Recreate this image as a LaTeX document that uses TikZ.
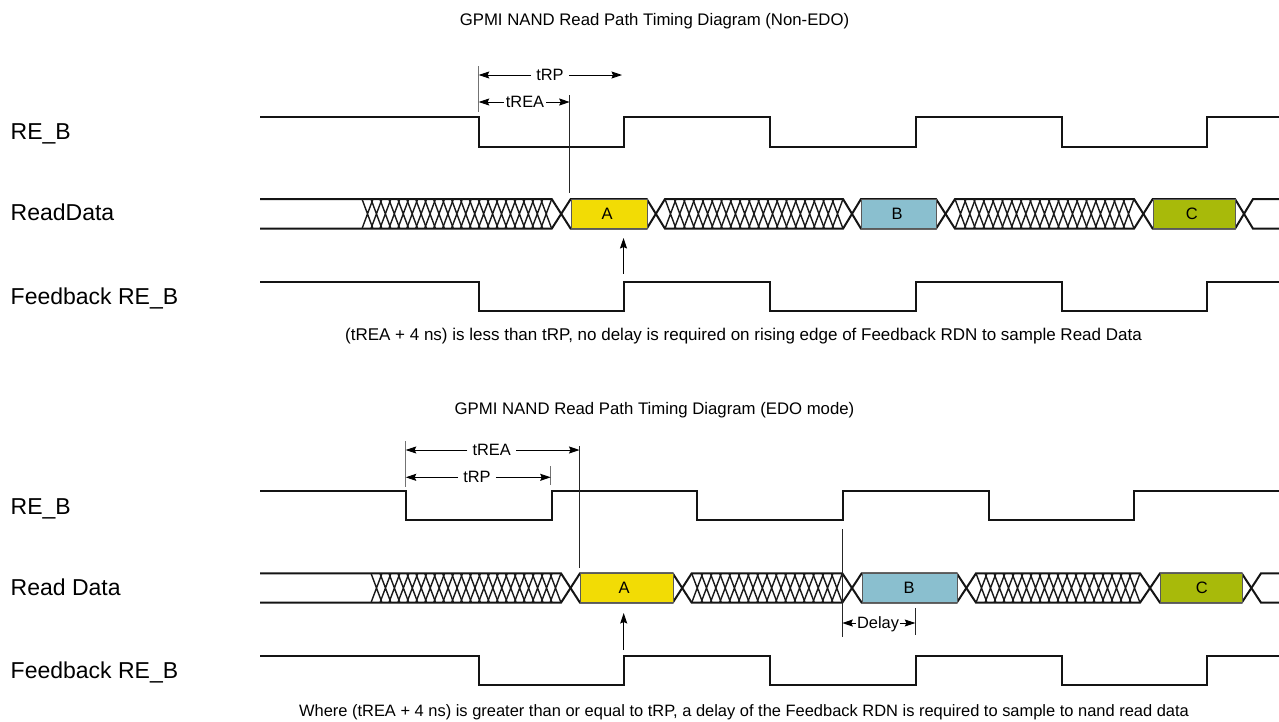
\documentclass[tikz,border=0pt]{standalone}
\usepackage{fontspec}
\setmainfont{Liberation Sans}
\usetikzlibrary{arrows.meta}
\definecolor{boxA}{HTML}{F2DC05}
\definecolor{boxB}{HTML}{8ABFCF}
\definecolor{boxC}{HTML}{A8BA0A}
\tikzset{
  wave/.style={line width=2pt,black!92,line join=miter},
  hatchln/.style={line width=1.4pt,black!90},
  dim/.style={line width=0.9pt,black,-{Stealth[length=10.5pt,width=7pt,inset=1.5pt]}},
  guide/.style={line width=1pt,black!85},
  tickg/.style={line width=1pt,black!55},
  siglabel/.style={anchor=base west,inner sep=0pt,font=\fontsize{23}{26}\selectfont},
  caption/.style={anchor=base,inner sep=0pt,font=\fontsize{16.75}{18}\selectfont},
  dimlabel/.style={anchor=base,inner sep=5pt,font=\fontsize{16.4}{18}\selectfont},
  databox/.style={draw=black!65,line width=1pt,minimum height=29.5pt,inner sep=0pt,anchor=west},
  boxtext/.style={anchor=base,inner sep=0pt,font=\fontsize{16.5}{18}\selectfont},
}
\newcommand{\hatchrun}[4]{% x0 x1 yhi ylo
  \pgfmathsetmacro{\hw}{11}
  \pgfmathsetmacro{\hn}{int(round((#2-#1-\hw)/9.15))}
  \pgfmathsetmacro{\hs}{(#2-#1-\hw)/\hn}
  \foreach \hi in {0,...,\hn}{
    \pgfmathsetmacro{\ha}{#1+\hi*\hs}
    \pgfmathsetmacro{\hb}{\ha+\hw}
    \draw[hatchln] (\ha,#3) -- (\hb,#4) (\hb,#3) -- (\ha,#4);
  }
}
\begin{document}
\begin{tikzpicture}[x=1pt,y=-1pt]
\useasboundingbox (0,0) rectangle (1279,721);
\begin{scope}
\clip (0,0) rectangle (1279,721);
% ---------- top diagram
\node[caption] (title1) at (654.5,25.6) {GPMI NAND Read Path Timing Diagram (Non-EDO)};
\node[siglabel] (l1) at (10.5,139) {RE\_B};
\node[siglabel] (l2) at (10.5,220.7) {ReadData};
\node[siglabel] (l3) at (10.5,304) {Feedback RE\_B};
\draw[wave] (260,116.5) -- (478.7,116.5) -- (478.7,146.5) -- (624,146.5) -- (624,116.5) -- (770,116.5) -- (770,146.5) -- (916,146.5) -- (916,116.5) -- (1062,116.5) -- (1062,146.5) -- (1207,146.5) -- (1207,116.5) -- (1279,116.5);
\draw[wave] (260,199) -- (551.7,199) -- (570.7,228.7) -- (646.7,228.7) -- (665,199) -- (843,199) -- (861,228.7) -- (936,228.7) -- (955,199) -- (1134,199) -- (1152.7,228.7) -- (1235,228.7) -- (1253,199) -- (1279,199);
\draw[wave] (260,228.7) -- (551.7,228.7) -- (570.7,199) -- (646.7,199) -- (665,228.7) -- (843,228.7) -- (861,199) -- (936,199) -- (955,228.7) -- (1134,228.7) -- (1152.7,199) -- (1235,199) -- (1253,228.7) -- (1279,228.7);
\hatchrun{362}{551.7}{199}{228.7}
\hatchrun{665}{843}{199}{228.7}
\hatchrun{955}{1134}{199}{228.7}
\node[databox,fill=boxA,minimum width=76pt] (a1) at (570.7,213.85) {};
\node[databox,fill=boxB,minimum width=75pt] (b1) at (861,213.85) {};
\node[databox,fill=boxC,minimum width=82.3pt] (c1) at (1152.7,213.85) {};
\node[boxtext] (ta1) at (607,219.5) {A};
\node[boxtext] (tb1) at (897,219.5) {B};
\node[boxtext] (tc1) at (1191.7,219.5) {C};
\draw[wave] (260,282) -- (478.7,282) -- (478.7,311) -- (624,311) -- (624,282) -- (770,282) -- (770,311) -- (916,311) -- (916,282) -- (1062,282) -- (1062,311) -- (1207,311) -- (1207,282) -- (1279,282);
\node[caption,font=\fontsize{17}{18}\selectfont] (note1) at (743.5,340.6) {(tREA + 4 ns) is less than tRP, no delay is required on rising edge of Feedback RDN to sample Read Data};
% dimensions, top
\coordinate (t1a) at (478.7,66); \coordinate (t1b) at (478.7,112);
\draw[tickg] (t1a) -- (t1b);
\coordinate (t1c) at (569.7,95); \coordinate (t1d) at (569.7,193);
\draw[guide] (t1c) -- (t1d);
\coordinate (rp1l) at (478.7,75); \coordinate (rp1r) at (622,75);
\node[dimlabel] (rp1) at (550,80.5) {tRP};
\draw[dim] (rp1.west |- rp1l) -- (rp1l);
\draw[dim] (rp1.east |- rp1r) -- (rp1r);
\coordinate (rea1l) at (478.7,102); \coordinate (rea1r) at (569.7,102);
\node[dimlabel,inner sep=2pt] (rea1) at (525,107.5) {tREA};
\draw[dim] (rea1.west |- rea1l) -- (rea1l);
\draw[dim] (rea1.east |- rea1r) -- (rea1r);
\coordinate (s1a) at (623.5,273.5); \coordinate (s1b) at (623.5,238);
\draw[dim] (s1a) -- (s1b);
% ---------- bottom diagram
\node[caption] (title2) at (654.5,414.6) {GPMI NAND Read Path Timing Diagram (EDO mode)};
\node[siglabel] (l4) at (10.5,514) {RE\_B};
\node[siglabel] (l5) at (10.5,595) {Read Data};
\node[siglabel] (l6) at (10.5,678) {Feedback RE\_B};
\draw[wave] (260,491) -- (405.7,491) -- (405.7,520.3) -- (551.7,520.3) -- (551.7,491) -- (697,491) -- (697,520.3) -- (843,520.3) -- (843,491) -- (989,491) -- (989,520.3) -- (1134,520.3) -- (1134,491) -- (1279,491);
\draw[wave] (260,573.3) -- (561,573.3) -- (580,602.7) -- (672.7,602.7) -- (691.7,573.3) -- (842.3,573.3) -- (861.7,602.7) -- (956.7,602.7) -- (976,573.3) -- (1140,573.3) -- (1160,602.7) -- (1241.7,602.7) -- (1261,573.3) -- (1279,573.3);
\draw[wave] (260,602.7) -- (561,602.7) -- (580,573.3) -- (672.7,573.3) -- (691.7,602.7) -- (842.3,602.7) -- (861.7,573.3) -- (956.7,573.3) -- (976,602.7) -- (1140,602.7) -- (1160,573.3) -- (1241.7,573.3) -- (1261,602.7) -- (1279,602.7);
\hatchrun{371}{561}{573.3}{602.7}
\hatchrun{691.7}{842.3}{573.3}{602.7}
\hatchrun{976}{1140}{573.3}{602.7}
\node[databox,fill=boxA,minimum width=92.7pt] (a2) at (580,588) {};
\node[databox,fill=boxB,minimum width=95pt] (b2) at (861.7,588) {};
\node[databox,fill=boxC,minimum width=81.7pt] (c2) at (1160,588) {};
\node[boxtext] (ta2) at (624,593.8) {A};
\node[boxtext] (tb2) at (909,593.8) {B};
\node[boxtext] (tc2) at (1201.7,593.8) {C};
\draw[wave] (260,655.5) -- (478.7,655.5) -- (478.7,685) -- (624,685) -- (624,655.5) -- (770,655.5) -- (770,685) -- (916,685) -- (916,655.5) -- (1062,655.5) -- (1062,685) -- (1207,685) -- (1207,655.5) -- (1279,655.5);
\node[caption,font=\fontsize{16.45}{18}\selectfont] (note2) at (744,716.6) {Where (tREA + 4 ns) is greater than or equal to tRP, a delay of the Feedback RDN is required to sample to nand read data};
% dimensions, bottom
\coordinate (t2a) at (405.7,441); \coordinate (t2b) at (405.7,487);
\draw[tickg] (t2a) -- (t2b);
\coordinate (t2c) at (550.7,466); \coordinate (t2d) at (550.7,485);
\draw[tickg] (t2c) -- (t2d);
\coordinate (t2e) at (579.5,446); \coordinate (t2f) at (579.5,567.7);
\draw[guide] (t2e) -- (t2f);
\coordinate (rea2l) at (405.7,450); \coordinate (rea2r) at (579.5,450);
\node[dimlabel] (rea2) at (491.7,455.5) {tREA};
\draw[dim] (rea2.west |- rea2l) -- (rea2l);
\draw[dim] (rea2.east |- rea2r) -- (rea2r);
\coordinate (rp2l) at (405.7,477.3); \coordinate (rp2r) at (550.7,477.3);
\node[dimlabel] (rp2) at (477,482.8) {tRP};
\draw[dim] (rp2.west |- rp2l) -- (rp2l);
\draw[dim] (rp2.east |- rp2r) -- (rp2r);
\coordinate (s2a) at (623.7,650); \coordinate (s2b) at (623.7,613);
\draw[dim] (s2a) -- (s2b);
\coordinate (d2a) at (842.3,529); \coordinate (d2b) at (842.3,636.7);
\draw[guide] (d2a) -- (d2b);
\coordinate (d2c) at (915.3,608); \coordinate (d2d) at (915.3,635);
\draw[guide] (d2c) -- (d2d);
\coordinate (dl) at (842.3,623); \coordinate (dr) at (915.3,623);
\node[dimlabel,inner sep=1pt] (dly) at (878,628.5) {Delay};
\draw[dim] (dly.west |- dl) -- (dl);
\draw[dim] (dly.east |- dr) -- (dr);
\end{scope}
\end{tikzpicture}
\end{document}
